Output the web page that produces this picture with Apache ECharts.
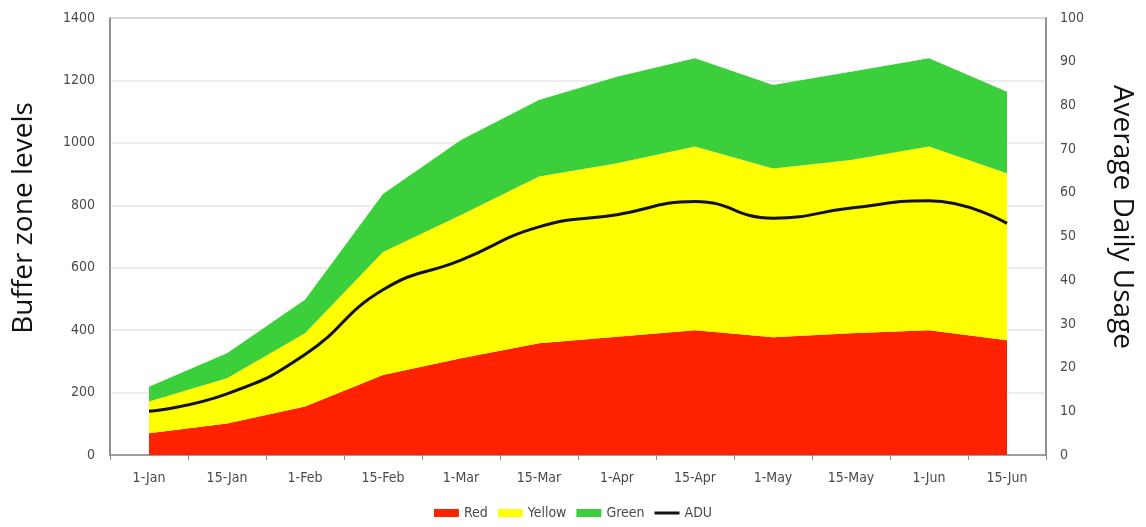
<!DOCTYPE html>
<html>
<head>
<meta charset="utf-8">
<script src="https://cdn.jsdelivr.net/npm/echarts@6/dist/echarts.min.js"></script>
<style>
  html, body { margin: 0; padding: 0; background: #fff; }
  #chart { width: 1146px; height: 527px; }
</style>
</head>
<body>
<div id="chart"></div>
<script>
// Dates along the horizontal axis
const categories = ['1-Jan', '15-Jan', '1-Feb', '15-Feb', '1-Mar', '15-Mar',
                    '1-Apr', '15-Apr', '1-May', '15-May', '1-Jun', '15-Jun'];

// Buffer zone sizes (stacked: red, then yellow on top, then green)
const redZone    = [70, 101, 155, 256, 310, 358, 379, 400, 377, 390, 400, 368];
const yellowZone = [101, 145, 235, 394, 459, 534, 556, 588, 541, 555, 588, 535];
const greenZone  = [48, 80, 107, 186, 240, 245, 277, 283, 267, 283, 283, 261];

// Average daily usage (right axis)
const adu = [10, 14, 23, 37.8, 44.6, 52.2, 55, 58, 54.2, 56.5, 58.2, 53];

// Axis titles
const leftTitle = 'Buffer zone levels';
const rightTitle = 'Average Daily Usage';

const tickFont = "'DejaVu Sans Condensed', 'Liberation Sans Narrow', sans-serif";
const titleFont = "'Open Sans', 'Noto Sans', sans-serif";
const tickColor = '#4a4a4a';

const chart = echarts.init(document.getElementById('chart'), null, { renderer: 'canvas' });

function zone(name, data, color) {
  return {
    name: name,
    type: 'line',
    stack: 'zones',
    data: data,
    symbol: 'none',
    showSymbol: false,
    lineStyle: { width: 0 },
    itemStyle: { color: color },
    areaStyle: { color: color, opacity: 1 },
    emphasis: { disabled: true },
    z: 2
  };
}

chart.setOption({
  animation: false,
  grid: {
    left: 110, right: 100, top: 18, bottom: 72,
    show: true, borderColor: '#8a8a8a', borderWidth: 1.5, backgroundColor: 'transparent'
  },
  graphic: [
    {
      type: 'text',
      x: 24, y: 218,
      rotation: Math.PI / 2,
      style: {
        text: leftTitle, x: 0, y: 0,
        font: "28px " + titleFont, fill: '#111',
        textAlign: 'center', textVerticalAlign: 'middle'
      }
    },
    {
      type: 'text',
      x: 1122, y: 217,
      rotation: -Math.PI / 2,
      style: {
        text: rightTitle, x: 0, y: 0,
        font: "28px " + titleFont, fill: '#111',
        textAlign: 'center', textVerticalAlign: 'middle'
      }
    }
  ],
  legend: {
    bottom: 2,
    left: 'center',
    itemWidth: 25,
    itemHeight: 8,
    itemGap: 10,
    symbolKeepAspect: true,
    textStyle: { fontFamily: tickFont, fontSize: 14, color: tickColor },
    data: [
      { name: 'Red', icon: 'rect' },
      { name: 'Yellow', icon: 'rect' },
      { name: 'Green', icon: 'rect' },
      { name: 'ADU', icon: 'path://M0,0H25V3H0Z' }
    ]
  },
  xAxis: {
    type: 'category',
    data: categories,
    boundaryGap: true,
    axisLine: { lineStyle: { color: '#8a8a8a', width: 1.5 } },
    axisTick: { show: true, length: 5, lineStyle: { color: '#8a8a8a' } },
    axisLabel: { fontFamily: tickFont, fontSize: 14, color: tickColor, margin: 16 },
    splitLine: { show: false }
  },
  yAxis: [
    {
      type: 'value',
      min: 0, max: 1400, interval: 200,
      axisLine: { show: true, lineStyle: { color: '#8a8a8a', width: 1.5 } },
      axisTick: { show: false },
      axisLabel: {
        fontFamily: tickFont, fontSize: 14, color: tickColor, margin: 15,
        formatter: function (v) { return String(v); }
      },
      splitLine: { show: true, lineStyle: { color: '#e6e6e6', width: 1.5 } }
    },
    {
      type: 'value',
      min: 0, max: 100, interval: 10,
      position: 'right',
      axisLine: { show: true, lineStyle: { color: '#8a8a8a', width: 1.5 } },
      axisTick: { show: false },
      axisLabel: { fontFamily: tickFont, fontSize: 14, color: tickColor, margin: 14 },
      splitLine: { show: false }
    }
  ],
  series: [
    zone('Red', redZone, '#ff2200'),
    zone('Yellow', yellowZone, '#ffff00'),
    zone('Green', greenZone, '#3ccf3c'),
    {
      name: 'ADU',
      type: 'line',
      yAxisIndex: 1,
      data: adu,
      smooth: true,
      symbol: 'none',
      showSymbol: false,
      lineStyle: { color: '#111', width: 3 },
      itemStyle: { color: '#111' },
      emphasis: { disabled: true },
      z: 5
    }
  ]
});
</script>
</body>
</html>
